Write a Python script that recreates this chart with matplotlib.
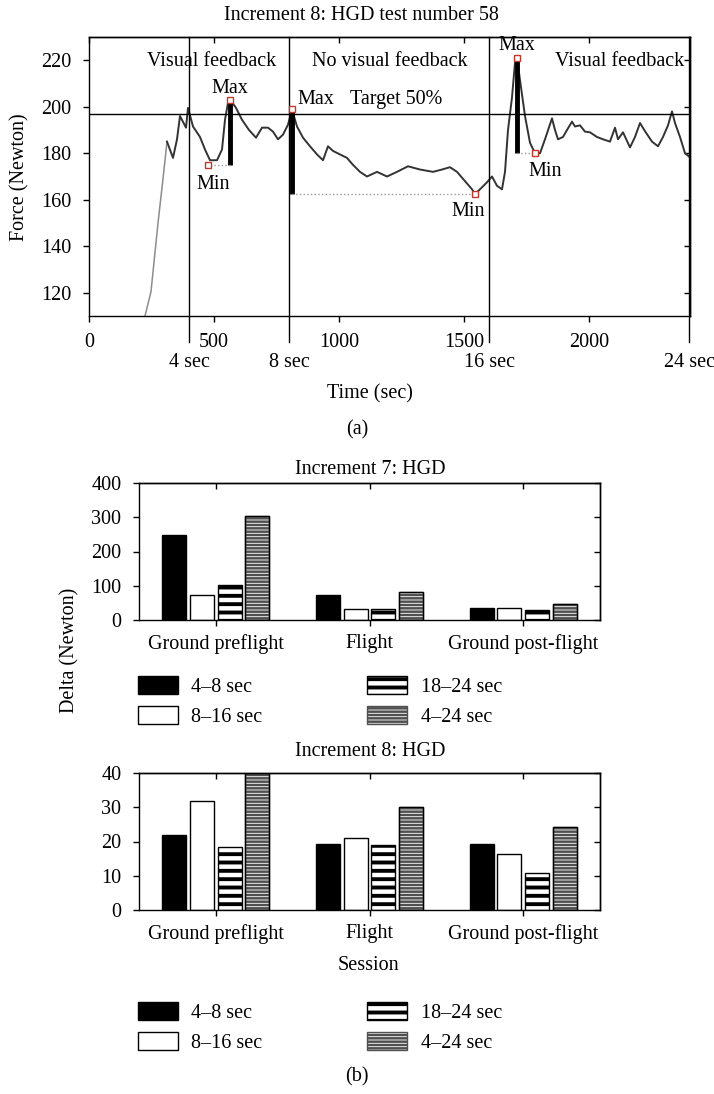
import numpy as np
import matplotlib
matplotlib.use("Agg")
import matplotlib.pyplot as plt

plt.rcParams['font.family'] = ['Liberation Serif', 'DejaVu Serif']
FS = 14.5

# ---- panel (a): force trace ----
time_pts = [224, 248, 276, 296, 312, 336, 352, 364, 388, 396, 416, 444, 464, 484, 512,
            532, 544, 556, 572, 588, 612, 640, 668, 692, 716, 736, 756, 776, 796, 812,
            832, 856, 884, 912, 936, 956, 976, 1004, 1032, 1056, 1084, 1112, 1152, 1192,
            1232, 1276, 1324, 1376, 1412, 1444, 1472, 1504, 1532, 1544, 1564, 1592, 1612,
            1632, 1652, 1664, 1676, 1692, 1704, 1712, 1724, 1744, 1764, 1784, 1804, 1824,
            1852, 1864, 1876, 1896, 1912, 1932, 1944, 1964, 1984, 2004, 2032, 2056, 2084,
            2104, 2116, 2136, 2164, 2184, 2204, 2224, 2252, 2276, 2296, 2316, 2332, 2344,
            2364, 2384, 2400]
force_pts = [110, 120.5, 150, 169, 185, 178, 186, 196, 191, 199.5, 191.5, 187, 181.6, 177, 177,
             181.6, 194.4, 201.7, 202, 199.5, 194.4, 190, 186.7, 191, 191, 189.3, 186, 188, 192.3, 198.7,
             191.5, 186.7, 183, 179.5, 177, 183, 181, 179.5, 178, 175, 172, 170, 172, 170,
             172, 174.4, 173, 172, 173, 174, 172, 168, 164.5, 162.5, 164.5, 167.5, 170,
             166, 164.5, 172, 190, 204, 219, 221, 211.5, 196, 184.5, 180, 180, 186,
             195, 190, 186, 187, 190, 193.6, 191.5, 192, 189.3, 189, 187, 186, 185,
             191, 186, 189, 182.5, 187, 193, 189.5, 185, 183, 187, 192, 198, 193,
             187, 180, 178.6]
n_rise = 4  # first samples of the ramp, drawn lighter

target = 197
phase_lines = [400, 800, 1600, 2400]
phase_labels = ['4 sec', '8 sec', '16 sec', '24 sec']
# max / min of each window
max_x = [564, 812, 1712]
max_y = [203, 199, 221]
min_x = [476, 1544, 1784]
min_y = [175, 162.5, 180]

# ---- panel (b): bar data ----
sessions = ['Ground preflight', 'Flight', 'Ground post-flight']
windows = ['4–8 sec', '8–16 sec', '18–24 sec', '4–24 sec']
inc7 = {'4–8 sec': [248, 73, 35],
        '8–16 sec': [73, 32, 34],
        '18–24 sec': [102, 32, 29],
        '4–24 sec': [304, 82, 47]}
inc8 = {'4–8 sec': [22, 19.3, 19.3],
        '8–16 sec': [31.8, 21.0, 16.4],
        '18–24 sec': [18.4, 18.9, 10.9],
        '4–24 sec': [40, 30.0, 24.3]}

W, H = 714, 1094
fig = plt.figure(figsize=(W / 100, H / 100), dpi=100)


def fx(px):
    return px / W


def fy(py):
    return 1 - py / H


def style_axes(ax, xticks, xpad):
    for s in ax.spines.values():
        s.set_linewidth(1.0)
    ax.tick_params(direction='out', length=4.3, width=1, labelsize=FS)
    ax.tick_params(axis='y', pad=8.3)
    ax.tick_params(axis='x', pad=xpad)
    sx = ax.secondary_xaxis('top')
    sx.set_xticks(xticks)
    sx.tick_params(direction='in', length=4.3, width=1, labeltop=False)
    sx.spines['top'].set_linewidth(1.0)
    sy = ax.secondary_yaxis('right')
    sy.set_yticks(ax.get_yticks())
    sy.tick_params(direction='in', length=4.3, width=1, labelright=False)
    sy.spines['right'].set_linewidth(1.0)


# ================= (a) =================
ax = fig.add_axes([fx(89), fy(316), fx(690) - fx(89), fy(37) - fy(316)])
ax.plot(time_pts[:n_rise + 1], force_pts[:n_rise + 1], color='#8c8c8c', lw=1.1)
ax.plot(time_pts[n_rise:], force_pts[n_rise:], color='#333333', lw=1.4)
ax.axhline(target, color='black', lw=1)
for xv in phase_lines:
    ax.axvline(xv, ymin=-0.093, ymax=1, color='black', lw=1, clip_on=False)
for xv, lab in zip(phase_lines, phase_labels):
    ax.text(xv, -0.165, lab, transform=ax.get_xaxis_transform(), ha='center',
            va='center', fontsize=FS)

for i in range(3):
    bar_x = max_x[i]
    ax.plot([bar_x, bar_x], [max_y[i], min_y[i]], color='black', lw=3.5,
            solid_capstyle='butt')
    ax.plot([bar_x, min_x[i]], [min_y[i], min_y[i]], color='#9a9a9a', lw=1,
            ls=':')
    ax.plot([max_x[i]], [max_y[i]], marker='s', ms=4, mfc='white', mec='#c0392b',
            mew=1)
    ax.plot([min_x[i]], [min_y[i]], marker='s', ms=4, mfc='white', mec='#c0392b',
            mew=1)

ax.text(492, 219.5, 'Visual feedback', ha='center', va='center', fontsize=FS)
ax.text(1204, 219.5, 'No visual feedback', ha='center', va='center', fontsize=FS)
ax.text(2124, 219.5, 'Visual feedback', ha='center', va='center', fontsize=FS)
ax.text(564, 207.7, 'Max', ha='center', va='center', fontsize=FS)
ax.text(832, 203, 'Max', ha='left', va='center', fontsize=FS)
ax.text(1044, 203, 'Target 50%', ha='left', va='center', fontsize=FS)
ax.text(1712, 226.5, 'Max', ha='center', va='center', fontsize=FS)
ax.text(496, 166.7, 'Min', ha='center', va='center', fontsize=FS)
ax.text(1516, 155, 'Min', ha='center', va='center', fontsize=FS)
ax.text(1824, 172, 'Min', ha='center', va='center', fontsize=FS)

ax.set_xlim(0, 2404)
ax.set_ylim(110, 230)
ax.set_xticks([0, 500, 1000, 1500, 2000])
ax.set_yticks([120, 140, 160, 180, 200, 220])
style_axes(ax, [0, 500, 1000, 1500, 2000], 8)

fig.text(fx(361), fy(15), 'Increment 8: HGD test number 58', ha='center',
         va='center', fontsize=FS)
fig.text(fx(370), fy(394), 'Time (sec)', ha='center', va='center', fontsize=FS)
fig.text(0.5, fy(430), '(a)', ha='center', va='center', fontsize=FS)
fig.text(fx(20), fy(177), 'Force (Newton)', ha='center', va='center',
         rotation=90, fontsize=FS)

# ================= (b) =================
offsets = [-0.27, -0.09, 0.09, 0.27]
bw = 0.155
styles = {
    '4–8 sec': dict(color='black', edgecolor='black', hatch=None, hlw=1.0),
    '8–16 sec': dict(color='white', edgecolor='black', hatch=None, hlw=1.0),
    '18–24 sec': dict(color='white', edgecolor='black', hatch='--', hlw=2.8),
    '4–24 sec': dict(color='white', edgecolor='#505050', hatch='-----', hlw=1.8),
}


def bar_chart(rect, data, ymax, yticks, title, title_py):
    bx = fig.add_axes(rect)
    xs = np.arange(len(sessions))
    handles = []
    for off, w in zip(offsets, windows):
        st = styles[w]
        with plt.rc_context({'hatch.linewidth': st['hlw']}):
            b = bx.bar(xs + off, data[w], width=bw, color=st['color'],
                       edgecolor=st['edgecolor'], hatch=st['hatch'], lw=1.0,
                       label=w)
        if st['edgecolor'] != 'black':
            bx.bar(xs + off, data[w], width=bw, fill=False, edgecolor='black',
                   lw=1.0)
        handles.append(b)
    bx.set_xlim(-0.5, 2.5)
    bx.set_ylim(0, ymax)
    bx.set_xticks(xs)
    bx.set_xticklabels(sessions)
    bx.set_yticks(yticks)
    style_axes(bx, list(xs), 5.7)
    fig.text(fx(370), fy(title_py), title, ha='center', va='center', fontsize=FS)
    return bx, handles


def add_legend(handles, top_py):
    leg = fig.legend(handles, windows, loc='upper left',
                     bbox_to_anchor=(fx(138), fy(top_py)), ncol=2, frameon=False,
                     handlelength=2.0, handleheight=1.0, handletextpad=0.65,
                     columnspacing=5.2, labelspacing=0.45, borderpad=0,
                     borderaxespad=0, fontsize=FS)
    for p, w in zip(leg.get_patches(), windows):
        hlw = styles[w]['hlw']
        if hasattr(p, 'set_hatch_linewidth'):
            p.set_hatch_linewidth(hlw)
        else:
            p._hatch_linewidth = hlw
    return leg


b1, h1 = bar_chart([fx(139), fy(620), fx(600) - fx(139), fy(483) - fy(620)],
                   inc7, 400, [0, 100, 200, 300, 400], 'Increment 7: HGD', 470)
add_legend(h1, 676)
b2, h2 = bar_chart([fx(139), fy(910), fx(600) - fx(139), fy(773) - fy(910)],
                   inc8, 40, [0, 10, 20, 30, 40], 'Increment 8: HGD', 752)
add_legend(h2, 1002)

fig.text(fx(368), fy(965), 'Session', ha='center', va='center', fontsize=FS)
fig.text(fx(70), fy(650), 'Delta (Newton)', ha='center', va='center',
         rotation=90, fontsize=FS)
fig.text(0.5, fy(1077), '(b)', ha='center', va='center', fontsize=FS)

fig.savefig('out.png', dpi=100)
